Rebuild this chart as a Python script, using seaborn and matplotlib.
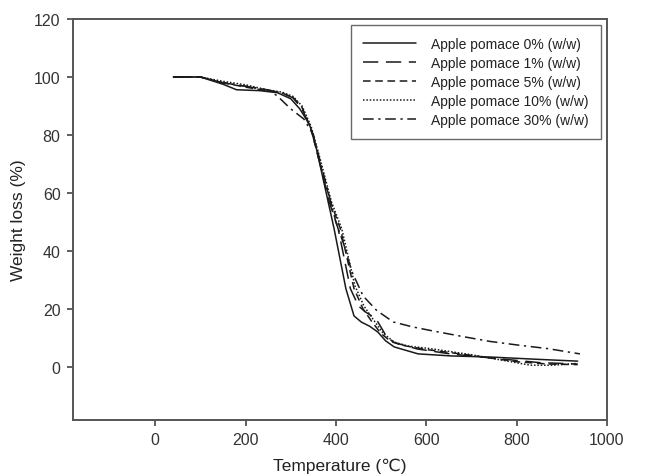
import matplotlib
matplotlib.use("Agg")
import matplotlib.pyplot as plt
import seaborn as sns
import pandas as pd

sns.set_theme(style="white")
plt.rcParams['font.family'] = ['Liberation Sans', 'DejaVu Sans']

labels = ["Apple pomace 0% (w/w)", "Apple pomace 1% (w/w)", "Apple pomace 5% (w/w)",
          "Apple pomace 10% (w/w)", "Apple pomace 30% (w/w)"]

t_0 = [40, 100, 150, 180, 230, 270, 300, 320, 340, 350, 370, 396, 422, 440, 456, 475, 493, 510, 529, 582, 655, 744, 850, 935]
w_0 = [100, 100, 97.5, 95.6, 95.3, 94.6, 92.5, 89, 84, 80, 66, 47.6, 27, 17.6, 15.5, 14, 12, 9, 6.9, 4.5, 3.8, 3.4, 2.6, 2.0]

t_1 = [40, 100, 150, 200, 250, 280, 305, 325, 345, 365, 385, 405, 432, 450, 465, 480, 493, 510, 527, 580, 653, 750, 850, 935]
w_1 = [100, 100, 98, 96.8, 95.5, 94.5, 92.8, 89, 82, 70, 57, 47.6, 27, 21, 19, 17.5, 15.5, 11, 8.5, 6.2, 4.5, 3.0, 1.5, 1.0]

t_5 = [40, 100, 150, 200, 250, 280, 305, 325, 345, 365, 388, 410, 440, 460, 480, 500, 520, 545, 600, 700, 800, 870, 935]
w_5 = [100, 100, 98, 96.5, 95.2, 94.5, 93, 89.5, 82, 70, 57, 47.6, 27, 20, 15.5, 11.5, 9, 7.5, 6, 4, 1.8, 1.0, 0.8]

t_10 = [40, 100, 150, 200, 250, 280, 305, 325, 345, 368, 390, 413, 442, 462, 482, 505, 530, 560, 610, 700, 780, 830, 880, 935]
w_10 = [100, 100, 98.5, 97.3, 95.5, 94.8, 93.3, 90, 83, 70, 57, 47.6, 28, 21, 16.5, 11.5, 8.5, 7.2, 6.3, 4.2, 2.0, 0.6, 0.6, 1.2]

t_30 = [40, 100, 150, 200, 250, 270, 300, 329, 350, 380, 400, 418, 435, 460, 490, 527, 570, 615, 680, 741, 800, 870, 940]
w_30 = [100, 100, 98, 96.8, 95.5, 93.5, 89, 85.5, 80, 62, 50, 42, 33, 24.5, 19.5, 15.5, 13.8, 12.4, 10.5, 8.8, 7.6, 6.3, 4.5]

series = [(t_0, w_0), (t_1, w_1), (t_5, w_5), (t_10, w_10), (t_30, w_30)]
styles = ['-', (0, (10, 5)), (0, (5, 3)), (0, (1, 1.2)), (0, (7, 3, 1.5, 3))]

fig = plt.figure(figsize=(6.47, 4.77), dpi=100)
ax = fig.add_axes([73/647, 1 - 421/477, (607-73)/647, (421-20)/477])

for (t, w), lab, ls in zip(series, labels, styles):
    df = pd.DataFrame({"T": t, "W": w})
    sns.lineplot(data=df, x="T", y="W", ax=ax, color="#1a1a1a", lw=1.1,
                 linestyle=ls, label=lab, sort=False)

ax.set_xlim(-182, 1000)
ax.set_ylim(-18.3, 120)
ax.set_xticks([0, 200, 400, 600, 800, 1000])
ax.set_yticks([0, 20, 40, 60, 80, 100, 120])
ax.tick_params(axis='both', which='both', direction='out', length=4, width=1.2,
               color='#444444', labelsize=11.5, labelcolor='#333333', pad=5,
               bottom=True, left=True, top=False, right=False)
for s in ax.spines.values():
    s.set_color('#555555')
    s.set_linewidth(1.4)
    s.set_visible(True)

ax.set_xlabel("Temperature (℃)", fontsize=12.5, color='#222222', labelpad=7)
ax.set_ylabel("Weight loss (%)", fontsize=12.5, color='#222222', labelpad=6)

leg = ax.legend(loc='upper right', bbox_to_anchor=(0.988, 0.985), fontsize=10,
                frameon=True, fancybox=False, edgecolor='#444444',
                handlelength=3.8, handletextpad=1.1, labelspacing=0.36,
                borderpad=0.85, borderaxespad=0.0)
leg.get_frame().set_linewidth(1.0)
for txt in leg.get_texts():
    txt.set_color('#222222')

fig.savefig("out.png", dpi=100)
